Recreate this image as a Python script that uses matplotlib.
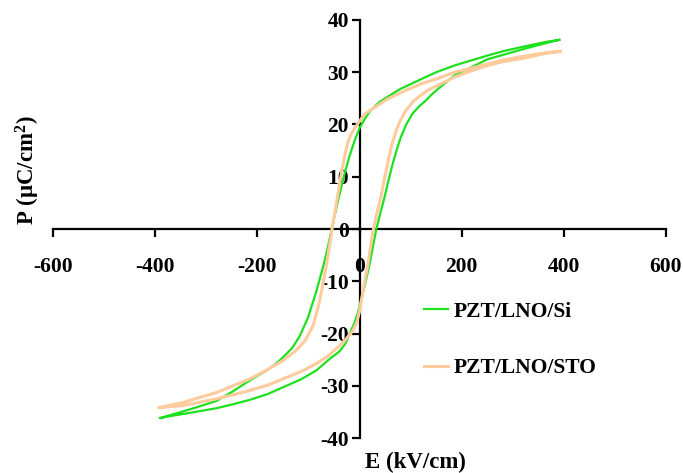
import matplotlib
matplotlib.use("Agg")
import matplotlib.pyplot as plt
from matplotlib.lines import Line2D

# ---- data ----
si_up_E = [391, 370, 350, 316, 280, 251, 220, 186, 150, 121, 104, 80, 55, 39, 20, 10, 0, -10, -20, -30, -40,
           -50, -55, -63, -72, -85, -101, -117, -132, -150, -165, -182, -200, -215, -250, -280, -315, -345,
           -370, -391]
si_up_P = [36.2, 35.9, 35.5, 34.8, 34.0, 33.2, 32.3, 31.3, 30.0, 28.7, 27.9, 26.8, 25.3, 24.3, 22.5, 21.0,
           19.3, 16.8, 13.8, 10.3, 6.3, 2.0, -0.3, -4.0, -7.5, -12.1, -17.0, -20.5, -22.8, -24.6, -25.9, -27.1,
           -28.1, -29.0, -31.2, -32.9, -34.0, -34.9, -35.6, -36.2]
si_lo_E = [-391, -370, -345, -315, -280, -250, -215, -180, -150, -115, -85, -60, -39, -28, -20, -10, -3, 3, 10,
           20, 29, 33, 41, 49, 57, 65, 73, 81, 92, 104, 117, 130, 143, 156, 186, 220, 251, 280, 316, 350, 370,
           391]
si_lo_P = [-36.2, -35.8, -35.4, -34.9, -34.3, -33.6, -32.7, -31.6, -30.3, -28.8, -27.1, -25.0, -23.4, -22.0,
           -20.2, -18.0, -16.0, -13.6, -11.0, -6.6, -2.0, 0.0, 3.1, 6.1, 9.4, 12.5, 15.2, 17.6, 20.1, 22.1, 23.5,
           24.6, 25.9, 27.0, 29.4, 31.0, 32.5, 33.3, 34.3, 35.2, 35.7, 36.2]

sto_up_E = [393, 370, 350, 316, 280, 251, 220, 186, 153, 121, 90, 55, 30, 10, 0, -8, -16, -22, -28, -34, -40,
            -46, -52, -58, -65, -72, -80, -91, -106, -125, -150, -182, -215, -250, -280, -315, -345, -370,
            -393]
sto_up_P = [34.0, 33.8, 33.5, 33.0, 32.3, 31.6, 30.8, 30.0, 28.8, 27.8, 26.5, 24.9, 23.3, 22.0, 20.6, 19.5,
            18.2, 16.8, 14.5, 11.5, 8.0, 4.5, 1.0, -2.8, -7.0, -10.8, -14.6, -18.5, -21.3, -23.3, -25.2, -27.0,
            -28.7, -30.1, -31.3, -32.3, -33.2, -33.7, -34.2]
sto_lo_E = [-393, -370, -345, -315, -280, -250, -215, -180, -150, -115, -85, -60, -33, -13, -5, 0, 6.5, 16, 26,
            34, 42, 48, 55, 63, 72, 81, 91, 106, 124, 140, 156, 186, 220, 251, 280, 316, 350, 370, 393]
sto_lo_P = [-34.2, -34.0, -33.8, -33.2, -32.5, -31.8, -30.9, -29.9, -28.7, -27.3, -25.8, -24.2, -21.8, -19.5,
            -17.8, -15.8, -12.1, -7.0, -0.6, 3.0, 6.1, 9.3, 12.5, 16.0, 18.9, 21.0, 22.7, 24.5, 25.9, 26.9,
            27.6, 29.1, 30.3, 31.3, 32.0, 32.6, 33.3, 33.7, 34.0]

labels = ["PZT/LNO/Si", "PZT/LNO/STO"]
x_ticks = [-600, -400, -200, 0, 200, 400, 600]
y_ticks = [-40, -30, -20, -10, 0, 10, 20, 30, 40]

green = "#1EE01E"
peach = "#FFCB9C"

plt.rcParams["font.family"] = ["Liberation Serif", "DejaVu Serif"]
plt.rcParams["font.weight"] = "bold"
plt.rcParams["axes.unicode_minus"] = False
plt.rcParams["mathtext.fontset"] = "custom"
plt.rcParams["mathtext.rm"] = "Liberation Serif:bold"
plt.rcParams["mathtext.bf"] = "Liberation Serif:bold"
plt.rcParams["mathtext.it"] = "Liberation Serif:bold"

fig = plt.figure(figsize=(6.83, 4.73), dpi=100)
W, H = 683, 473
ax = fig.add_axes([53 / W, 35 / H, 613 / W, 418 / H])

ax.plot(si_up_E + si_lo_E, si_up_P + si_lo_P, color=green, lw=1.6, zorder=3,
        solid_joinstyle="round")
ax.plot(sto_up_E + sto_lo_E, sto_up_P + sto_lo_P, color=peach, lw=2.2, zorder=4,
        solid_joinstyle="round")

ax.set_xlim(-600, 600)
ax.set_ylim(-40, 40)
ax.spines["left"].set_position(("data", 0))
ax.spines["bottom"].set_position(("data", 0))
for s in ("top", "right"):
    ax.spines[s].set_visible(False)
for s in ("left", "bottom"):
    ax.spines[s].set_linewidth(1.6)
    ax.spines[s].set_color("black")

ax.set_xticks(x_ticks)
ax.set_yticks(y_ticks)
ax.tick_params(axis="x", direction="out", length=6, width=1.6, pad=14, labelsize=15.5)
ax.tick_params(axis="y", direction="out", length=6, width=1.6, pad=1.5, labelsize=15.5)
for t in ax.get_xticklabels() + ax.get_yticklabels():
    t.set_fontweight("bold")

fig.text(28 / W, 1 - 170 / H, "P (\u03bcC/cm$^{\\mathbf{2}}$)", rotation=90, ha="center", va="center",
         fontsize=16.5, fontweight="bold")
fig.text(365 / W, 1 - 462 / H, "E (kV/cm)", ha="left", va="center", fontsize=16.5, fontweight="bold")

handles = [Line2D([], [], color=green, lw=1.6), Line2D([], [], color=peach, lw=2.2)]
leg = ax.legend(handles, labels, loc="center left", bbox_to_anchor=(424 / W, 1 - 340 / H),
                bbox_transform=fig.transFigure, frameon=False, borderpad=0, borderaxespad=0,
                handlelength=1.1, handletextpad=0.3, labelspacing=1.7,
                prop={"family": "Liberation Serif", "weight": "bold", "size": 15.5})

fig.savefig("out.png", dpi=100)
